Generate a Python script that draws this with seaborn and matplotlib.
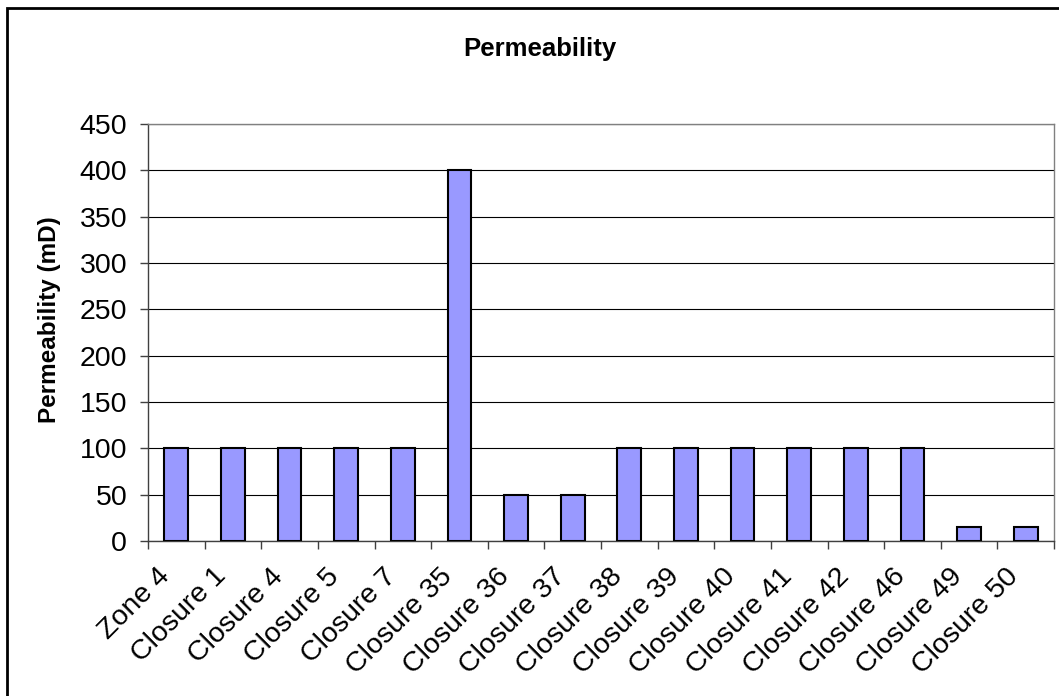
import matplotlib
matplotlib.use("Agg")
import matplotlib.pyplot as plt
from matplotlib.patches import Rectangle
from matplotlib.ticker import FixedLocator
from matplotlib.transforms import ScaledTranslation
import seaborn as sns
import pandas as pd

# Permeability per sample location (mD)
locations = ["Zone 4", "Closure 1", "Closure 4", "Closure 5", "Closure 7",
             "Closure 35", "Closure 36", "Closure 37", "Closure 38", "Closure 39",
             "Closure 40", "Closure 41", "Closure 42", "Closure 46", "Closure 49",
             "Closure 50"]
permeability = [100, 100, 100, 100, 100, 400, 50, 50, 100, 100,
                100, 100, 100, 100, 15, 15]
y_ticks = [0, 50, 100, 150, 200, 250, 300, 350, 400, 450]

df = pd.DataFrame({"location": locations, "permeability": permeability})

sns.set_style("white")
plt.rcParams["font.family"] = ["Liberation Sans", "DejaVu Sans"]
plt.rcParams["text.color"] = "black"
plt.rcParams["xtick.color"] = "black"
plt.rcParams["ytick.color"] = "black"

W, H = 1059, 696
fig = plt.figure(figsize=(W / 100, H / 100), dpi=100)

# outer chart frame (continues past the right and bottom edges)
fig.patches.append(Rectangle((7 / W, -0.1), 1.2, 1 - 8 / H + 0.1,
                             transform=fig.transFigure, fill=False,
                             edgecolor="black", linewidth=2.0, zorder=0))

left, right, top, bottom = 148, 1054, 124, 541
ax = fig.add_axes([left / W, (H - bottom) / H, (right - left) / W, (bottom - top) / H])

sns.barplot(data=df, x="location", y="permeability", color="#9999FF",
            width=0.42, saturation=1, edgecolor="black", linewidth=1.5,
            ax=ax, zorder=3)

ax.set_xlim(-0.5, len(locations) - 0.5)
ax.set_ylim(0, 450)
ax.set_yticks(y_ticks)
ax.grid(axis="y", color="black", linewidth=0.8, zorder=0)
ax.set_axisbelow(True)

for side in ("top", "right"):
    ax.spines[side].set_visible(True)
    ax.spines[side].set_color("#808080")
    ax.spines[side].set_linewidth(1.0)
for side in ("left", "bottom"):
    ax.spines[side].set_color("#404040")
    ax.spines[side].set_linewidth(1.0)

# category boundary ticks on x, labels centred under bars
ax.xaxis.set_minor_locator(FixedLocator([i - 0.5 for i in range(len(locations) + 1)]))
ax.tick_params(axis="x", which="minor", length=6, width=1, color="#404040",
               direction="out", bottom=True)
ax.tick_params(axis="x", which="major", length=0, pad=16, labelsize=20.5,
               labelcolor="black")
ax.tick_params(axis="y", which="major", length=6, width=1, color="#404040",
               direction="out", left=True, pad=9, labelsize=20.5, labelcolor="black")
shift = ScaledTranslation(-20 / 100, 0, fig.dpi_scale_trans)
for lab in ax.get_xticklabels():
    lab.set_rotation(45)
    lab.set_ha("right")
    lab.set_va("top")
    lab.set_rotation_mode("anchor")
    lab.set_transform(lab.get_transform() + shift)

ax.set_xlabel("")
ax.set_ylabel("")
fig.text(50 / W, 1 - 320 / H, "Permeability (mD)", rotation=90, ha="center",
         va="center", fontsize=17.5, fontweight="bold", color="black")
fig.text(540 / W, 1 - 49 / H, "Permeability", ha="center", va="center",
         fontsize=18.5, fontweight="bold", color="black")

fig.savefig("out.png", dpi=100, facecolor="white")
